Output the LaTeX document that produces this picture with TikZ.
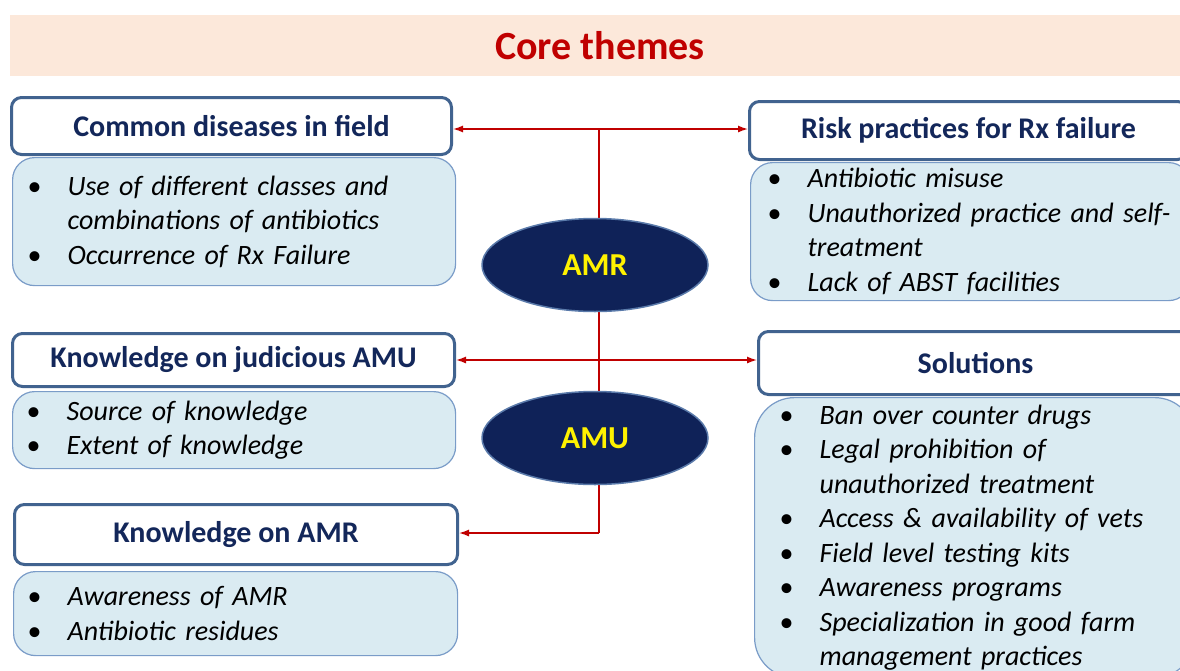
\documentclass[tikz,border=0pt]{standalone}
\usepackage{fontspec}
\setmainfont{Carlito}
\usetikzlibrary{shapes.geometric,arrows.meta}
\definecolor{bandpeach}{HTML}{FCE8DA}
\definecolor{titlered}{HTML}{C00000}
\definecolor{headline}{HTML}{41638F}
\definecolor{headtext}{HTML}{13275A}
\definecolor{bodyfill}{HTML}{DAEBF2}
\definecolor{bodyline}{HTML}{7A9CC8}
\definecolor{themefill}{HTML}{0F2258}
\definecolor{themeline}{HTML}{5A7AAA}
\newcommand{\bitem}{\makebox[40pt][l]{\upshape\textbullet}}
\newcommand{\bcont}{\hspace*{40pt}}

\begin{document}
\begin{tikzpicture}[x=1pt,y=-1pt,
    band/.style ={fill=bandpeach, minimum width=1180, minimum height=61, inner sep=0,
                  text=titlered, font=\bfseries\fontsize{40}{48}\selectfont},
    headbox/.style ={draw=headline, line width=3pt, rounded corners=10pt, fill=white,
                  anchor=north west, inner sep=0, text=headtext,
                  font=\bfseries\fontsize{30}{36}\selectfont},
    bodybox/.style ={draw=bodyline, line width=1.2pt, rounded corners=22pt, fill=bodyfill,
                  anchor=north west, inner ysep=0, align=left,
                  font=\itshape\fontsize{28}{34.5}\selectfont},
    theme/.style ={ellipse, draw=themeline, line width=1.5pt, fill=themefill,
                  minimum width=226, minimum height=93, text=yellow,
                  font=\bfseries\fontsize{32}{38}\selectfont},
    link/.style ={draw=titlered, line width=1.4pt},
    >={Latex[length=10pt,width=7pt]}]
   \useasboundingbox (0,0) rectangle (1180,670);
   \fill[white] (0,0) rectangle (1180,670);
   \node[band] (title) at (600,45.5) {Core themes};

   \node[headbox, minimum width=440, minimum height=57] (cdis) at (10,96) {Common diseases in field};
   \node[bodybox, minimum width=443, minimum height=128, inner xsep=15, text width=413] (cdisbody) at (12,157)
     {\bitem Use of different classes and\\ \bcont combinations of antibiotics\\ \bitem Occurrence of Rx Failure};

   \node[headbox, minimum width=438, minimum height=58] (risk) at (748,100) {Risk practices for Rx failure};
   \node[bodybox, minimum width=440, minimum height=138, inner xsep=17, text width=406] (riskbody) at (750,162)
     {\bitem Antibiotic misuse\\ \bitem Unauthorized practice and self-\\ \bcont treatment\\ \bitem Lack of ABST facilities};

   \node[headbox, minimum width=442, minimum height=53] (kamu) at (11,332) {Knowledge on judicious AMU};
   \node[bodybox, minimum width=443, minimum height=77, inner xsep=14, text width=415] (kamubody) at (12,391)
     {\bitem Source of knowledge\\ \bitem Extent of knowledge};

   \node[headbox, minimum width=434, minimum height=63] (sol) at (757,330) {Solutions};
   \node[bodybox, rounded corners=40pt, minimum width=440, minimum height=280, inner xsep=25, text width=390] (solbody) at (754,397)
     {\bitem Ban over counter drugs\\ \bitem Legal prohibition of\\ \bcont unauthorized treatment\\
      \bitem Access \& availability of vets\\ \bitem Field level testing kits\\ \bitem Awareness programs\\
      \bitem Specialization in good farm\\ \bcont management practices};

   \node[headbox, minimum width=443, minimum height=60] (kamr) at (13,503) {Knowledge on AMR};
   \node[bodybox, minimum width=444, minimum height=84, inner xsep=14, text width=416] (kamrbody) at (13,571)
     {\bitem Awareness of AMR\\ \bitem Antibiotic residues};

   \coordinate (jtop) at (599,129);
   \coordinate (jmid) at (599,360);
   \coordinate (jbot) at (599,533);
   \draw[link,<->] (cdis.east |- jtop) -- (risk.west |- jtop);
   \draw[link] (jtop) -- (jbot);
   \draw[link,->] (jbot) -- (kamr.east |- jbot);
   \draw[link,<->] (kamu.east |- jmid) -- (sol.west |- jmid);

   \node[theme] (amr) at (595,265) {AMR};
   \node[theme] (amu) at (595,438) {AMU};
 \end{tikzpicture}
\end{document}
